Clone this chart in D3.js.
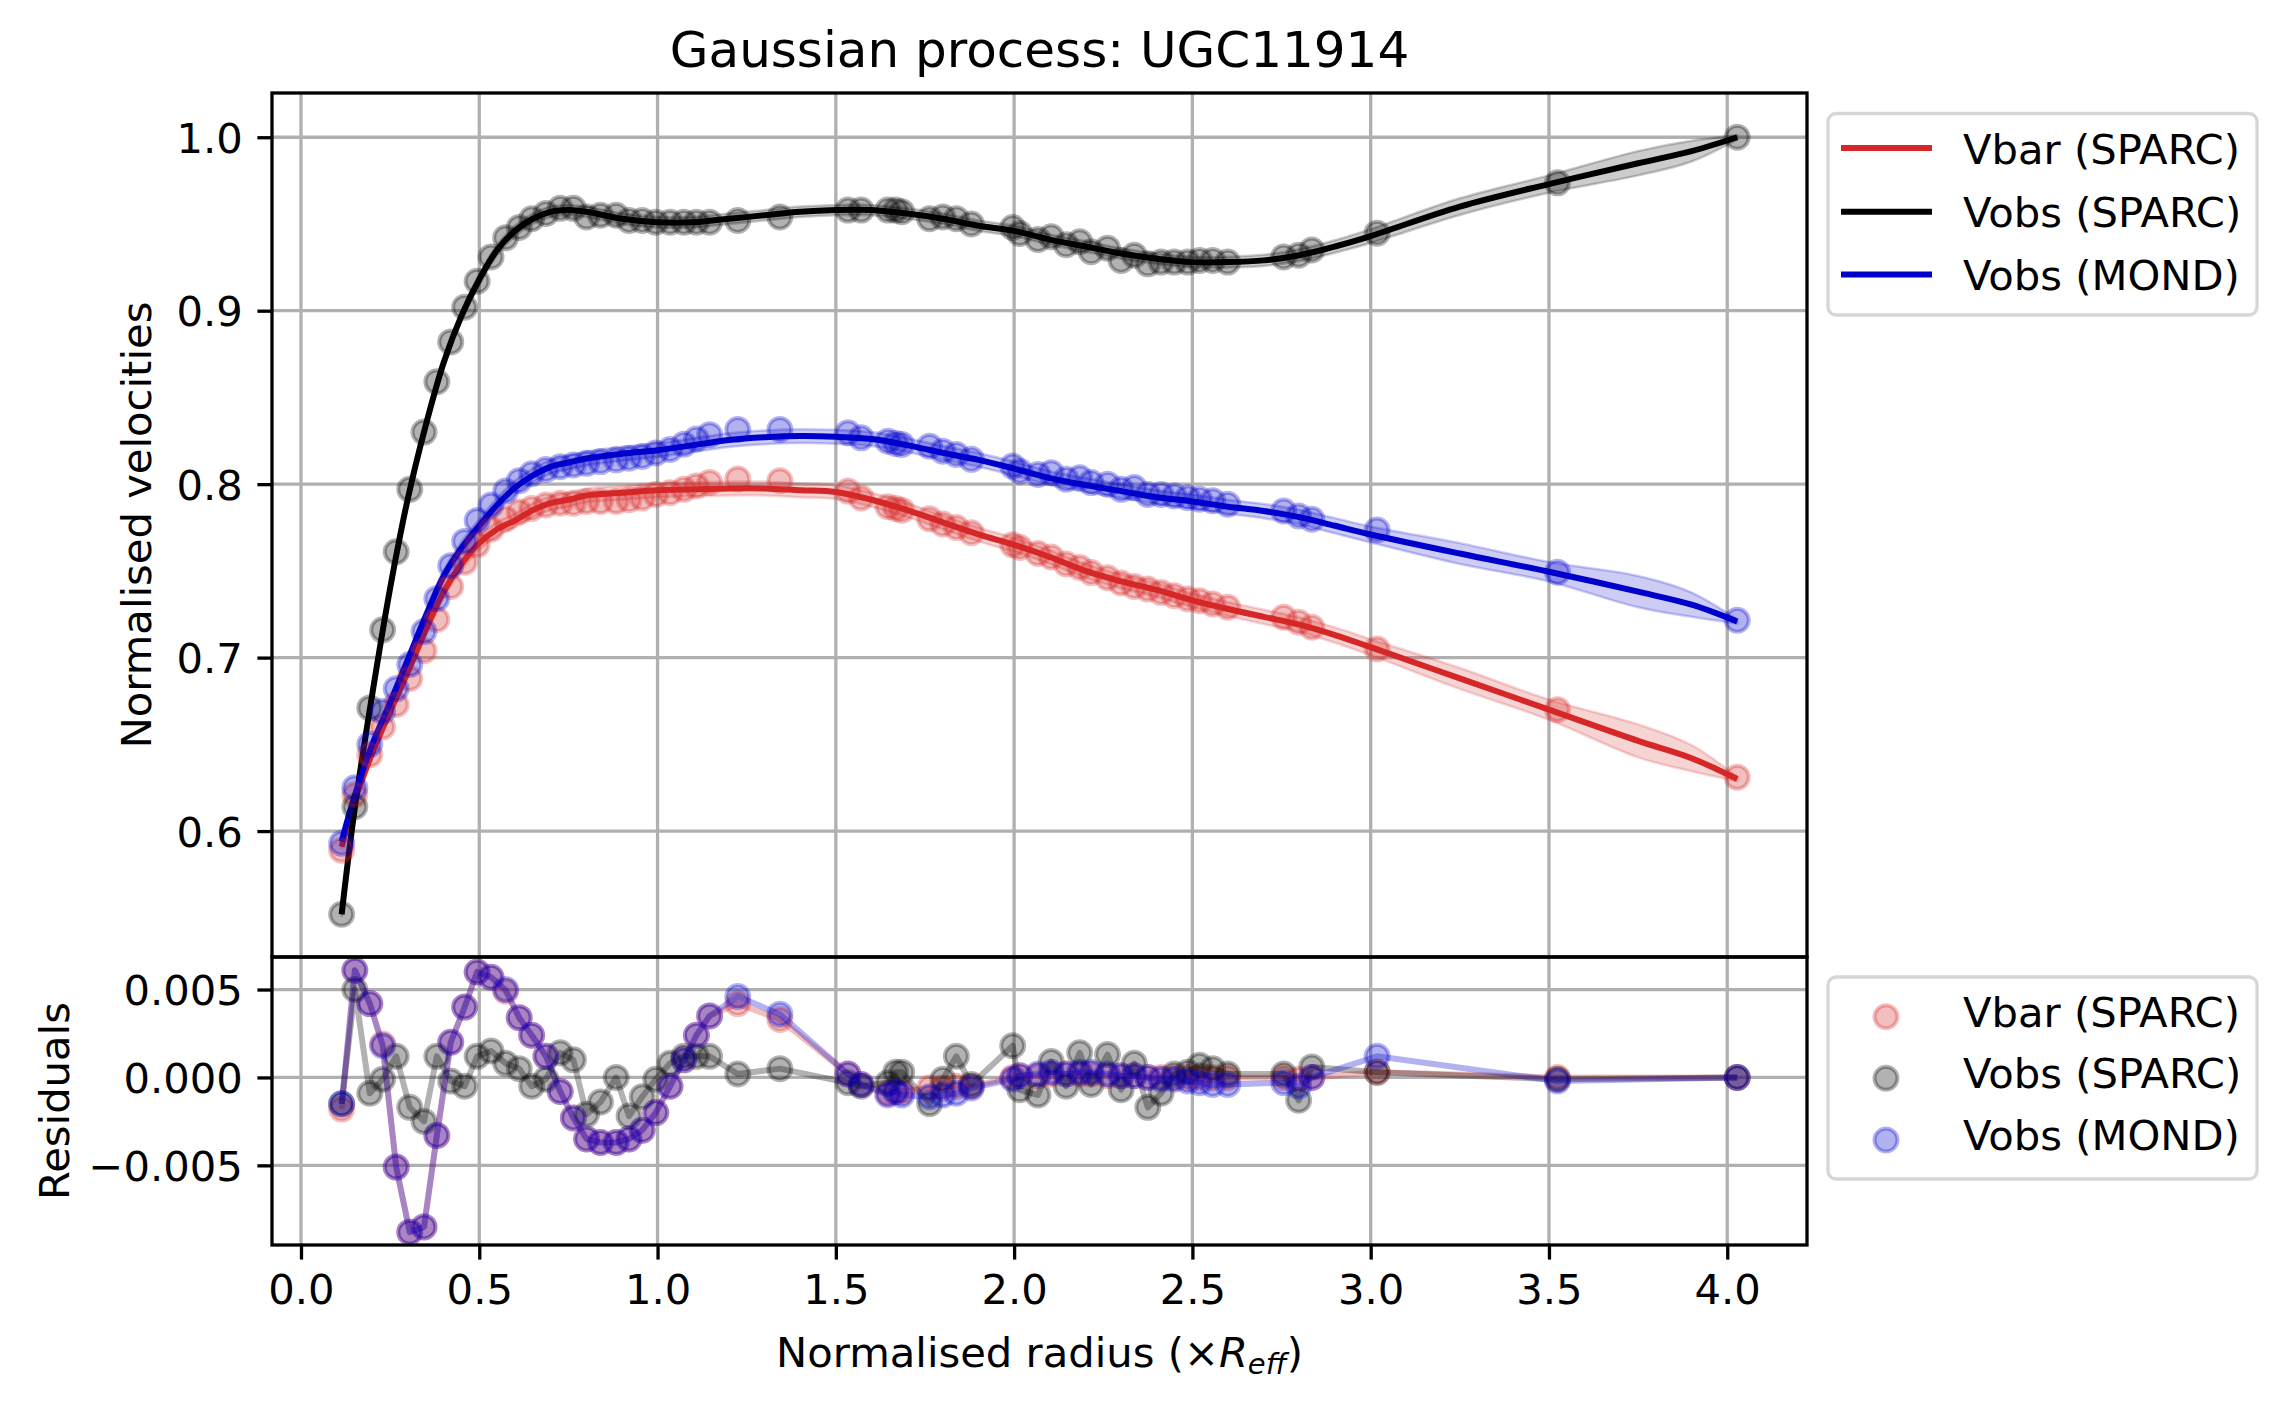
<!DOCTYPE html>
<html><head><meta charset="utf-8">
<script src="https://cdn.jsdelivr.net/npm/d3@7"></script>
<style>
html,body{margin:0;padding:0;background:#fff;}
svg{display:block;font-family:"DejaVu Sans",sans-serif;}
</style></head><body>
<svg id="chart" width="2286" height="1406"></svg>
<script>
// ---------- data ----------
const radius = [0.114,0.151,0.193,0.229,0.267,0.305,0.345,0.381,0.420,0.459,0.494,0.533,0.574,0.612,0.647,0.687,0.727,0.764,0.801,0.840,0.884,0.920,0.957,0.995,1.035,1.074,1.109,1.146,1.225,1.343,1.534,1.571,1.646,1.668,1.685,1.763,1.800,1.838,1.880,1.996,2.016,2.067,2.104,2.146,2.184,2.216,2.262,2.300,2.337,2.375,2.412,2.449,2.487,2.520,2.557,2.599,2.756,2.798,2.835,3.018,3.524,4.028];

const vbarSparc = [0.589,0.621,0.644,0.660,0.673,0.688,0.704,0.722,0.741,0.755,0.765,0.774,0.780,0.784,0.786,0.788,0.789,0.789,0.790,0.790,0.790,0.791,0.792,0.794,0.795,0.797,0.799,0.801,0.803,0.802,0.796,0.792,0.787,0.786,0.785,0.780,0.777,0.775,0.772,0.765,0.7635,0.760,0.758,0.754,0.752,0.749,0.746,0.743,0.741,0.7395,0.7376,0.7357,0.7338,0.7328,0.7309,0.729,0.7233,0.7204,0.7175,0.705,0.670,0.631];

const vobsSparc = [0.552,0.614,0.671,0.716,0.761,0.797,0.830,0.859,0.882,0.902,0.917,0.931,0.942,0.948,0.953,0.956,0.959,0.959,0.954,0.955,0.955,0.952,0.952,0.951,0.951,0.951,0.951,0.951,0.952,0.954,0.958,0.958,0.958,0.958,0.957,0.953,0.954,0.953,0.950,0.948,0.9445,0.941,0.9426,0.938,0.9397,0.934,0.936,0.929,0.932,0.927,0.928,0.928,0.928,0.929,0.929,0.928,0.931,0.932,0.935,0.9447,0.9737,1.0];

const vobsMond = [0.593,0.625,0.650,0.669,0.682,0.696,0.715,0.734,0.753,0.767,0.779,0.788,0.796,0.802,0.806,0.8085,0.810,0.811,0.812,0.813,0.814,0.815,0.816,0.818,0.820,0.823,0.826,0.8285,0.8315,0.8315,0.8296,0.8267,0.8248,0.8235,0.8229,0.8219,0.819,0.8171,0.8143,0.8104,0.8075,0.8056,0.8066,0.8028,0.8037,0.8009,0.800,0.797,0.798,0.7941,0.7941,0.7932,0.7922,0.7913,0.7904,0.7884,0.7845,0.7817,0.7798,0.7736,0.7492,0.7215];

const resVbar = [-0.0018,0.0061,0.0042,0.0019,-0.0051,-0.0088,-0.0085,-0.0033,0.0020,0.0040,0.0060,0.0057,0.0049,0.0034,0.0024,0.0012,-0.0008,-0.0023,-0.0035,-0.0037,-0.0037,-0.0035,-0.0030,-0.0020,-0.0005,0.0010,0.0024,0.0035,0.0042,0.0033,0.0002,-0.0004,-0.0009,-0.0008,-0.0008,-0.0006,-0.0006,-0.0005,-0.0005,0.0000,0.0001,0.0001,0.0002,0.0002,0.0002,0.0002,0.0001,0.0001,0.0001,0.0000,0.0000,0.0000,0.0000,0.0000,0.0000,0.0000,0.0000,-0.0001,0.0000,0.0003,0.0000,0.0000];

const resVobs = [-0.0015,0.0050,-0.0009,-0.0001,0.0012,-0.0017,-0.0025,0.0012,-0.0002,-0.0005,0.0012,0.0015,0.0008,0.0005,-0.0005,-0.0001,0.0014,0.0010,-0.0021,-0.0014,0.0000,-0.0022,-0.0011,-0.0001,0.0008,0.0012,0.0012,0.0012,0.0002,0.0005,-0.0003,-0.0005,-0.0003,0.0003,0.0003,-0.0015,-0.0001,0.0012,-0.0004,0.0018,-0.0007,-0.0010,0.0009,-0.0005,0.0014,-0.0004,0.0013,-0.0007,0.0008,-0.0017,-0.0009,0.0002,0.0003,0.0007,0.0005,0.0002,0.0002,-0.0013,0.0006,0.0003,-0.0001,0.0000];

const resMond = [-0.0015,0.0061,0.0042,0.0018,-0.0051,-0.0088,-0.0085,-0.0033,0.0020,0.0040,0.0060,0.0057,0.0050,0.0034,0.0024,0.0012,-0.0008,-0.0023,-0.0035,-0.0037,-0.0037,-0.0035,-0.0030,-0.0020,-0.0005,0.0010,0.0024,0.0035,0.0046,0.0036,0.0002,-0.0004,-0.0010,-0.0008,-0.0010,-0.0011,-0.0010,-0.0009,-0.0006,-0.0001,0.0001,0.0002,0.0003,0.0002,0.0003,0.0003,0.0002,0.0001,0.0001,0.0000,-0.0001,-0.0001,-0.0002,-0.0003,-0.0004,-0.0004,-0.0003,-0.0005,0.0000,0.0012,-0.0002,0.0000];

// Gaussian-process mean curves and band half-widths, sampled where read
const gpX = [0.114,0.15,0.2,0.25,0.3,0.35,0.4,0.45,0.5,0.55,0.6,0.65,0.7,0.75,0.8,0.9,1.0,1.1,1.2,1.3,1.4,1.5,1.6,1.7,1.8,1.9,2.0,2.1,2.2,2.3,2.4,2.5,2.6,2.7,2.8,2.9,3.0,3.25,3.5,3.75,3.9,4.028];
const gpVbar = [0.591,0.617,0.645,0.669,0.692,0.716,0.738,0.754,0.766,0.774,0.779,0.785,0.789,0.791,0.7935,0.795,0.7965,0.797,0.7975,0.7975,0.7965,0.7955,0.791,0.785,0.778,0.771,0.765,0.758,0.750,0.744,0.739,0.733,0.728,0.7235,0.719,0.713,0.706,0.688,0.670,0.652,0.642,0.630];
const gpVobs = [0.552,0.612,0.679,0.740,0.792,0.834,0.870,0.897,0.918,0.935,0.946,0.953,0.957,0.958,0.957,0.953,0.951,0.951,0.953,0.955,0.957,0.958,0.958,0.956,0.953,0.949,0.946,0.941,0.937,0.933,0.930,0.928,0.928,0.929,0.932,0.937,0.943,0.960,0.973,0.985,0.992,1.0];
const gpMond = [0.594,0.620,0.650,0.674,0.699,0.724,0.747,0.763,0.776,0.788,0.798,0.805,0.810,0.8125,0.8148,0.8175,0.8196,0.8225,0.8254,0.827,0.8277,0.8273,0.826,0.8225,0.818,0.814,0.809,0.8035,0.7995,0.796,0.7925,0.790,0.787,0.7845,0.781,0.776,0.771,0.760,0.7495,0.738,0.7305,0.7208];
const bandVbar = [0.0015,0.002,0.0025,0.003,0.003,0.0033,0.0035,0.0037,0.0038,0.004,0.004,0.004,0.004,0.004,0.004,0.004,0.004,0.004,0.004,0.004,0.004,0.004,0.004,0.004,0.004,0.004,0.004,0.004,0.004,0.004,0.004,0.004,0.004,0.0041,0.0042,0.0044,0.0046,0.006,0.0058,0.0095,0.0075,0.0012];
const bandVobs = [0.0015,0.002,0.0025,0.0028,0.003,0.003,0.003,0.003,0.003,0.003,0.003,0.003,0.003,0.003,0.003,0.003,0.003,0.003,0.003,0.003,0.003,0.003,0.003,0.003,0.003,0.003,0.003,0.003,0.003,0.003,0.003,0.003,0.0031,0.0032,0.0034,0.0036,0.004,0.0048,0.005,0.007,0.006,0.0012];
const bandMond = [0.0015,0.002,0.0025,0.003,0.003,0.0033,0.0035,0.0037,0.0038,0.004,0.004,0.004,0.004,0.004,0.004,0.004,0.004,0.004,0.004,0.004,0.004,0.004,0.004,0.004,0.004,0.004,0.004,0.004,0.004,0.004,0.004,0.004,0.004,0.0041,0.0042,0.0044,0.0046,0.006,0.0056,0.009,0.007,0.0012];

const xTicks = [0.0,0.5,1.0,1.5,2.0,2.5,3.0,3.5,4.0];
const yTicks = [0.6,0.7,0.8,0.9,1.0];
const resTicks = [-0.005,0.0,0.005];
const seriesNames = ["Vbar (SPARC)","Vobs (SPARC)","Vobs (MOND)"];
const seriesColors = ["#d62728","#000000","#0000cd"];

// ---------- layout ----------
const svg = d3.select("#chart");
const L = 272, R = 1807, T = 93, MID = 957, B = 1245;
const FS = 41.7;
const gridColor = "#b0b0b0";

const x = d3.scaleLinear().domain([-0.0813, 4.2237]).range([L, R]);
const yTop = d3.scaleLinear().domain([0.5274, 1.0255]).range([MID, T]);
const yBot = d3.scaleLinear().domain([-0.00953, 0.00685]).range([B, MID]);

svg.append("rect").attr("width",2286).attr("height",1406).attr("fill","#fff");

const defs = svg.append("defs");
defs.append("clipPath").attr("id","clipTop").append("rect").attr("x",L).attr("y",T).attr("width",R-L).attr("height",MID-T);
defs.append("clipPath").attr("id","clipBot").append("rect").attr("x",L).attr("y",MID).attr("width",R-L).attr("height",B-MID);

// ---------- grids ----------
function drawGrid(g, yScale, yt, y0, y1) {
  g.selectAll("line.gx").data(xTicks).join("line").attr("class","gx")
    .attr("x1", d=>x(d)).attr("x2", d=>x(d)).attr("y1", y0).attr("y2", y1)
    .attr("stroke", gridColor).attr("stroke-width", 3.3);
  g.selectAll("line.gy").data(yt).join("line").attr("class","gy")
    .attr("x1", L).attr("x2", R).attr("y1", d=>yScale(d)).attr("y2", d=>yScale(d))
    .attr("stroke", gridColor).attr("stroke-width", 3.3);
}
drawGrid(svg.append("g"), yTop, yTicks, T, MID);
drawGrid(svg.append("g"), yBot, resTicks, MID, B);

// ---------- top panel data ----------
const gTop = svg.append("g").attr("clip-path","url(#clipTop)");
const gpMeans = [gpVbar, gpVobs, gpMond];
const gpBands = [bandVbar, bandVobs, bandMond];
const pts = [vbarSparc, vobsSparc, vobsMond];
const curve = d3.curveCatmullRom.alpha(0.5);

gpMeans.forEach((m, k) => {
  const rows = gpX.map((xx,i)=>({x:xx, lo:m[i]-gpBands[k][i], hi:m[i]+gpBands[k][i]}));
  gTop.append("path").datum(rows)
    .attr("d", d3.area().x(d=>x(d.x)).y0(d=>yTop(d.lo)).y1(d=>yTop(d.hi)).curve(curve))
    .attr("fill", seriesColors[k]).attr("fill-opacity", 0.2)
    .attr("stroke", seriesColors[k]).attr("stroke-opacity", 0.2).attr("stroke-width", 2.5);
});
gpMeans.forEach((m, k) => {
  gTop.append("path").datum(gpX.map((xx,i)=>[xx,m[i]]))
    .attr("d", d3.line().x(d=>x(d[0])).y(d=>yTop(d[1])).curve(curve))
    .attr("fill","none").attr("stroke", seriesColors[k]).attr("stroke-width", 6);
});
pts.forEach((p, k) => {
  gTop.append("g").selectAll("circle").data(radius.map((r,i)=>[r,p[i]])).join("circle")
    .attr("cx", d=>x(d[0])).attr("cy", d=>yTop(d[1])).attr("r", 11.5)
    .attr("fill", seriesColors[k]).attr("fill-opacity", 0.3)
    .attr("stroke", seriesColors[k]).attr("stroke-opacity", 0.3).attr("stroke-width", 4);
});

// ---------- bottom panel ----------
const gBot = svg.append("g").attr("clip-path","url(#clipBot)");
const res = [resVbar, resVobs, resMond];
res.forEach((p, k) => {
  const g = gBot.append("g");
  const rows = radius.map((r,i)=>[r,p[i]]);
  g.append("path").datum(rows)
    .attr("d", d3.line().x(d=>x(d[0])).y(d=>yBot(d[1])))
    .attr("fill","none").attr("stroke", seriesColors[k]).attr("stroke-opacity", 0.3).attr("stroke-width", 6)
    .attr("stroke-linejoin","round");
  g.selectAll("circle").data(rows).join("circle")
    .attr("cx", d=>x(d[0])).attr("cy", d=>yBot(d[1])).attr("r", 11.5)
    .attr("fill", seriesColors[k]).attr("fill-opacity", 0.3)
    .attr("stroke", seriesColors[k]).attr("stroke-opacity", 0.3).attr("stroke-width", 4);
});

// ---------- axes ----------
function styleAxis(g) {
  g.select(".domain").remove();
  g.selectAll(".tick line").attr("stroke","#000").attr("stroke-width",3.3);
  g.selectAll(".tick text").attr("fill","#000").attr("font-size",FS).attr("font-family","DejaVu Sans");
}
const ayTop = svg.append("g").attr("transform",`translate(${L},0)`)
  .call(d3.axisLeft(yTop).tickValues(yTicks).tickFormat(d3.format(".1f")).tickSize(14.6).tickPadding(14.6));
styleAxis(ayTop);
ayTop.selectAll(".tick text").attr("dy","0.36em");
const ayBot = svg.append("g").attr("transform",`translate(${L},0)`)
  .call(d3.axisLeft(yBot).tickValues(resTicks).tickFormat(d3.format(".3f")).tickSize(14.6).tickPadding(14.6));
styleAxis(ayBot);
ayBot.selectAll(".tick text").attr("dy","0.36em");
const ax = svg.append("g").attr("transform",`translate(0,${B})`)
  .call(d3.axisBottom(x).tickValues(xTicks).tickFormat(d3.format(".1f")).tickSize(14.6).tickPadding(14.6));
styleAxis(ax);
ax.selectAll(".tick text").attr("dy","0.71em");

// spines
[[T,MID],[MID,B]].forEach(([a,b])=>{
  svg.append("rect").attr("x",L).attr("y",a).attr("width",R-L).attr("height",b-a)
    .attr("fill","none").attr("stroke","#000").attr("stroke-width",3.3);
});

// ---------- texts ----------
svg.append("text").attr("x",(L+R)/2).attr("y",67).attr("text-anchor","middle")
  .attr("font-size",50).text("Gaussian process: UGC11914");
svg.append("text").attr("transform",`translate(151,${(T+MID)/2}) rotate(-90)`).attr("text-anchor","middle")
  .attr("font-size",FS).text("Normalised velocities");
svg.append("text").attr("transform",`translate(69,${(MID+B)/2}) rotate(-90)`).attr("text-anchor","middle")
  .attr("font-size",FS).text("Residuals");
const xl = svg.append("text").attr("x",(L+R)/2).attr("y",1367).attr("text-anchor","middle").attr("font-size",FS);
xl.append("tspan").text("Normalised radius (×");
xl.append("tspan").attr("font-style","italic").text("R");
xl.append("tspan").attr("font-style","italic").attr("font-size",29).attr("dy",7).text("eff");
xl.append("tspan").attr("dy",-7).text(")");

// ---------- legends ----------
function legendBox(y0, y1) {
  svg.append("rect").attr("x",1828).attr("y",y0).attr("width",2257-1828).attr("height",y1-y0)
    .attr("rx",8).attr("fill","#fff").attr("fill-opacity",0.8).attr("stroke","#d6d6d6").attr("stroke-width",3.3);
}
legendBox(113.5, 315);
const lgTopY = [148, 211.7, 274.4];
seriesNames.forEach((n,k)=>{
  svg.append("line").attr("x1",1841).attr("x2",1932).attr("y1",lgTopY[k]).attr("y2",lgTopY[k])
    .attr("stroke",seriesColors[k]).attr("stroke-width",6);
  svg.append("text").attr("x",1963).attr("y",lgTopY[k]+15.5).attr("font-size",FS).text(n);
});
legendBox(977, 1179);
const lgBotY = [1016.7, 1078.3, 1140];
seriesNames.forEach((n,k)=>{
  svg.append("circle").attr("cx",1886).attr("cy",lgBotY[k]).attr("r",11.5)
    .attr("fill",seriesColors[k]).attr("fill-opacity",0.3)
    .attr("stroke",seriesColors[k]).attr("stroke-opacity",0.3).attr("stroke-width",4);
  svg.append("text").attr("x",1963).attr("y",lgBotY[k]+10).attr("font-size",FS).text(n);
});
</script>
</body></html>
